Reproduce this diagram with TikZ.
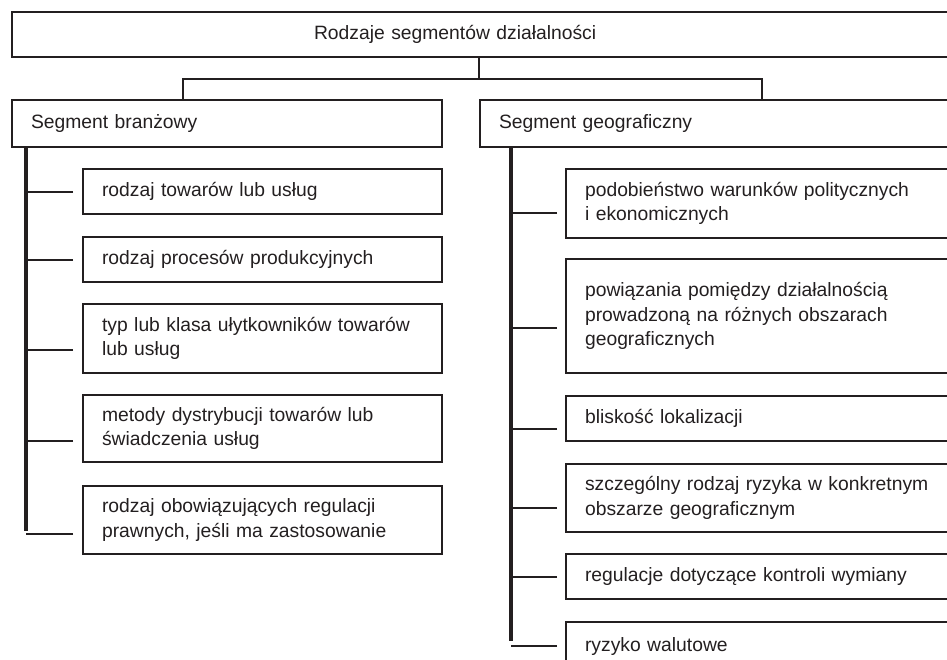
\documentclass[tikz,border=0pt]{standalone}
\usepackage{fontspec}
\setmainfont{Liberation Sans}
\definecolor{ink}{HTML}{231F20}
\begin{document}
\begin{tikzpicture}[x=1pt, y=-1pt, line width=2.1pt, color=ink,
  box/.style={draw, rectangle, anchor=north west, inner xsep=19pt, inner ysep=0pt, align=left, font=\fontsize{19.3}{24.5}\selectfont},
  lbox/.style={box, minimum width=359pt, text width=321pt},
  rbox/.style={box, minimum width=400pt, text width=362pt},
  spine/.style={line width=3.4pt}]
\useasboundingbox (0,0) rectangle (947,659);
\clip (0,0) rectangle (947,659);
\node[box, minimum width=949pt, text width=911pt, minimum height=45pt] (seg0) at (11,11) {\hspace*{283pt}Rodzaje segmentów działalności};
\node[box, minimum width=430pt, text width=392pt, minimum height=47pt] (seg1) at (11,99) {Segment branżowy};
\node[box, minimum width=490pt, text width=452pt, minimum height=47pt] (seg2) at (479,99) {Segment geograficzny};
\coordinate (hub) at (479,79);
\draw (seg0.south -| hub) -- (hub);
\draw ([xshift=172pt]seg1.north west) |- (hub) -| ([xshift=283pt]seg2.north west);
\node[lbox, minimum height=45pt] (seg3) at (82,168) {rodzaj towarów lub usług};
\node[lbox, minimum height=45pt] (seg4) at (82,236) {rodzaj procesów produkcyjnych};
\node[lbox, minimum height=69pt] (seg5) at (82,303) {typ lub klasa ułytkowników towarów\\lub usług};
\node[lbox, minimum height=67pt] (seg6) at (82,394) {metody dystrybucji towarów lub\\świadczenia usług};
\node[lbox, minimum height=68pt] (seg7) at (82,485) {rodzaj obowiązujących regulacji\\prawnych, jeśli ma zastosowanie};
\coordinate (sp0) at (26,146);
\draw[spine] (sp0) -- ([yshift=-11pt]seg7.west -| sp0);
\foreach \n/\d in {3/0,4/0,5/11,6/12,7/14}
  \draw ([xshift=-9pt,yshift=-\d pt]seg\n.west) -- ([yshift=-\d pt]seg\n.west -| sp0);
\node[rbox, minimum height=69pt] (seg8) at (565,168) {podobieństwo warunków politycznych\\i ekonomicznych};
\node[rbox, minimum height=114pt] (seg9) at (565,258) {powiązania pomiędzy działalnością\\prowadzoną na różnych obszarach\\geograficznych};
\node[rbox, minimum height=45pt] (seg10) at (565,395) {bliskość lokalizacji};
\node[rbox, minimum height=68pt] (seg11) at (565,463) {szczególny rodzaj ryzyka w konkretnym\\obszarze geograficznym};
\node[rbox, minimum height=45pt] (seg12) at (565,553) {regulacje dotyczące kontroli wymiany};
\node[rbox, minimum height=48pt] (seg13) at (565,621) {ryzyko walutowe};
\coordinate (sp1) at (511,146);
\draw[spine] (sp1) -- ([yshift=5pt]seg13.west -| sp1);
\foreach \n/\d in {8/9,9/12,10/10,11/10,12/0,13/0}
  \draw ([xshift=-8pt,yshift=-\d pt]seg\n.west) -- ([yshift=-\d pt]seg\n.west -| sp1);
\end{tikzpicture}
\end{document}
